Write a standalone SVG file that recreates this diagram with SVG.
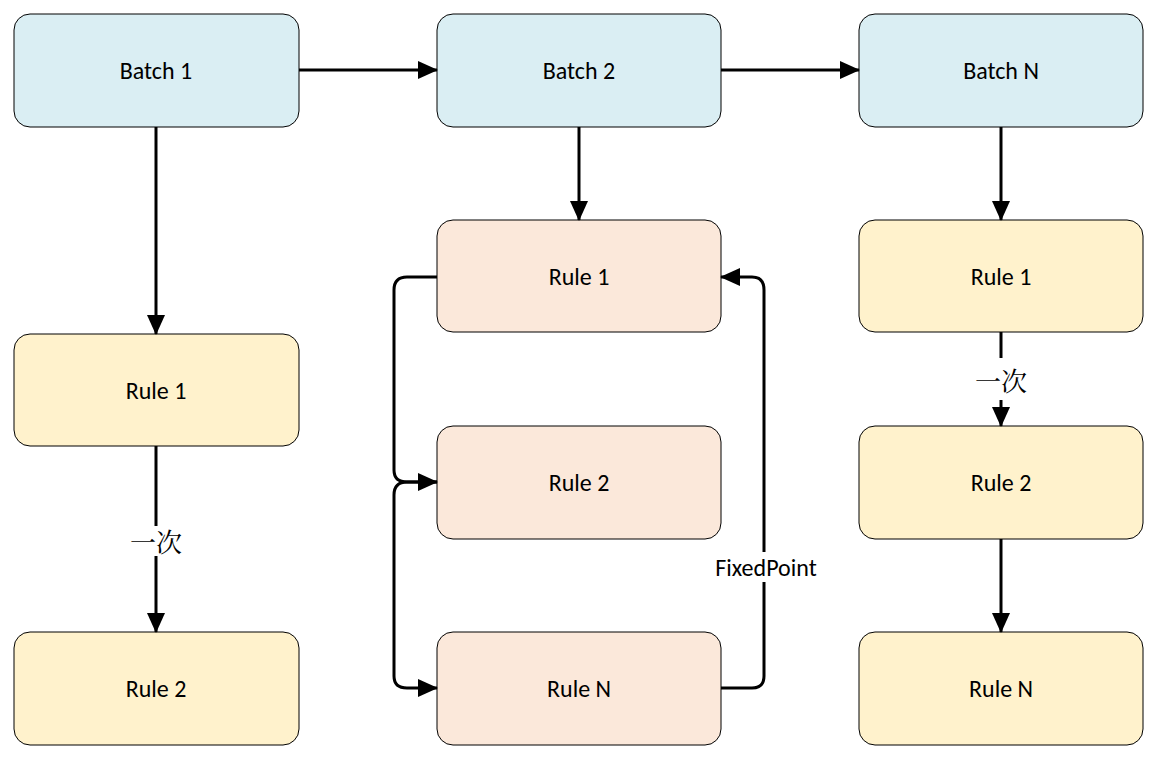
<svg xmlns="http://www.w3.org/2000/svg" width="1162" height="762" viewBox="0 0 1162 762">
<style>
.n{stroke:#000;stroke-width:1}
.b{fill:#DAEEF3}.p{fill:#FBE8DA}.y{fill:#FFF2CC}
.t{font-family:"Calibri","Liberation Sans",sans-serif;font-size:24px;text-anchor:middle;dominant-baseline:central;fill:#000}
.c{fill:none;stroke:#000;stroke-width:3}
.cj{font-family:"Noto Serif CJK SC","Noto Sans CJK SC",serif;font-size:26px;text-anchor:middle;dominant-baseline:central}
</style>
<defs><marker id="a" markerWidth="10" markerHeight="10" refX="9" refY="5" orient="auto" markerUnits="userSpaceOnUse" viewBox="0 0 10 10"><path d="M0,0L10,5L0,10z" fill="#000"/></marker>
<marker id="m" markerWidth="20" markerHeight="18" refX="19" refY="9" orient="auto" markerUnits="userSpaceOnUse"><path d="M0,0L20,9L0,18z" fill="#000"/></marker></defs>
<rect width="1162" height="762" fill="#fff"/>
<g id="batch1"><rect class="n b" x="14" y="14" width="285" height="113" rx="16"/><text class="t" x="156" y="70">Batch 1</text></g>
<g id="batch2"><rect class="n b" x="437" y="14" width="284" height="113" rx="16"/><text class="t" x="579" y="70">Batch 2</text></g>
<g id="batchN"><rect class="n b" x="859" y="14" width="284" height="113" rx="16"/><text class="t" x="1001" y="70">Batch N</text></g>
<g id="l1"><rect class="n y" x="14" y="334" width="285" height="112" rx="16"/><text class="t" x="156" y="390">Rule 1</text></g>
<g id="l2"><rect class="n y" x="14" y="632" width="285" height="113" rx="16"/><text class="t" x="156" y="688">Rule 2</text></g>
<g id="m1"><rect class="n p" x="437" y="220" width="284" height="112" rx="16"/><text class="t" x="579" y="276">Rule 1</text></g>
<g id="m2"><rect class="n p" x="437" y="426" width="284" height="113" rx="16"/><text class="t" x="579" y="482">Rule 2</text></g>
<g id="mN"><rect class="n p" x="437" y="632" width="284" height="113" rx="16"/><text class="t" x="579" y="688">Rule N</text></g>
<g id="r1"><rect class="n y" x="859" y="220" width="284" height="112" rx="16"/><text class="t" x="1001" y="276">Rule 1</text></g>
<g id="r2"><rect class="n y" x="859" y="426" width="284" height="113" rx="16"/><text class="t" x="1001" y="482">Rule 2</text></g>
<g id="rN"><rect class="n y" x="859" y="632" width="284" height="113" rx="16"/><text class="t" x="1001" y="688">Rule N</text></g>
<g id="connectors">
<path class="c" d="M299,70H437" marker-end="url(#m)"/>
<path class="c" d="M721,70H859" marker-end="url(#m)"/>
<path class="c" d="M156,127V334" marker-end="url(#m)"/>
<path class="c" d="M579,127V220" marker-end="url(#m)"/>
<path class="c" d="M1001,127V220" marker-end="url(#m)"/>
<path class="c" d="M156,446V526M156,556V632" marker-end="url(#m)"/>
<text class="cj" x="156" y="540">一次</text>
<path class="c" d="M1001,332V358M1001,400V426" marker-end="url(#m)"/>
<text class="cj" x="1001" y="379">一次</text>
<path class="c" d="M1001,539V632" marker-end="url(#m)"/>
<path class="c" d="M437,277H407Q394,277 394,290V470Q394,482 407,482H437" marker-end="url(#m)"/>
<path class="c" d="M437,482H407Q394,482 394,495V676Q394,688 407,688H437" marker-end="url(#m)"/>
<path class="c" d="M721,688H752Q764,688 764,676V290Q764,277 752,277H721" marker-end="url(#m)"/>
<rect x="700" y="552" width="130" height="30" fill="#fff"/>
<text class="t" x="766" y="567">FixedPoint</text>
</g>
</svg>
